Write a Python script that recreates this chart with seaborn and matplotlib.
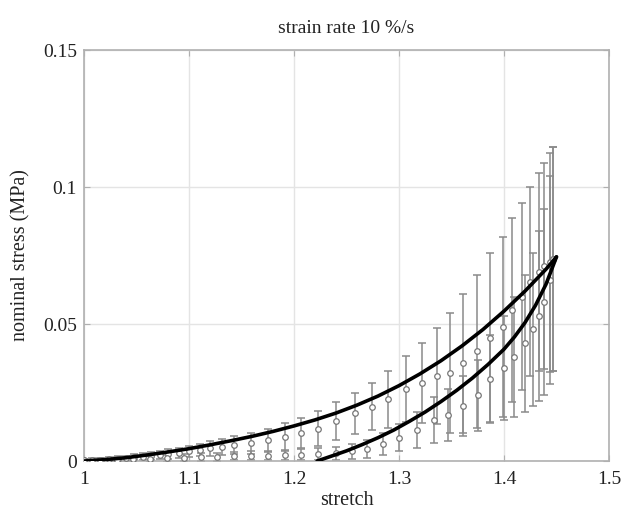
import matplotlib
matplotlib.use("Agg")
import matplotlib.pyplot as plt
import numpy as np
import pandas as pd
import seaborn as sns

# ---- model curves (loading / unloading fit) ----
fit_load_stretch = [1.00, 1.02, 1.04, 1.06, 1.08, 1.10, 1.12, 1.14, 1.16, 1.18,
                    1.20, 1.22, 1.24, 1.26, 1.28, 1.30, 1.32, 1.34, 1.36, 1.38,
                    1.40, 1.42, 1.44, 1.45]
fit_load_stress = [0.0000, 0.0005, 0.0012, 0.0022, 0.0033, 0.0045, 0.0059, 0.0074, 0.0090, 0.0108,
                   0.0128, 0.0150, 0.0175, 0.0204, 0.0237, 0.0275, 0.0318, 0.0366, 0.0420, 0.0480,
                   0.0547, 0.0620, 0.0700, 0.0745]

fit_unload_stretch = [1.450, 1.440, 1.430, 1.420, 1.410, 1.400, 1.385, 1.370, 1.355,
                      1.340, 1.325, 1.310, 1.295, 1.280, 1.265, 1.250, 1.235, 1.222]
fit_unload_stress = [0.0745, 0.0645, 0.0568, 0.0505, 0.0453, 0.0408, 0.0353, 0.0303, 0.0258,
                     0.0217, 0.0179, 0.0145, 0.0113, 0.0085, 0.0060, 0.0037, 0.0017, 0.0000]

# ---- experimental means and standard deviations ----
load_stretch = [1.000, 1.008, 1.016, 1.024, 1.032, 1.040, 1.048, 1.056, 1.064, 1.072,
                1.080, 1.090, 1.100, 1.110, 1.120, 1.131, 1.143, 1.159, 1.175, 1.191,
                1.207, 1.223, 1.240, 1.258, 1.274, 1.290, 1.307, 1.322, 1.336, 1.349,
                1.361, 1.374, 1.387, 1.399, 1.408, 1.417, 1.425, 1.433, 1.438, 1.444,
                1.447]
load_mean = [0.0003, 0.0004, 0.0005, 0.0006, 0.0008, 0.0010, 0.0013, 0.0016, 0.0019, 0.0022,
             0.0026, 0.0030, 0.0035, 0.0040, 0.0046, 0.0052, 0.0057, 0.0065, 0.0075, 0.0088,
             0.0102, 0.0118, 0.0145, 0.0175, 0.0198, 0.0225, 0.0262, 0.0285, 0.0310, 0.0320,
             0.0356, 0.0400, 0.0450, 0.0490, 0.0550, 0.0600, 0.0655, 0.0690, 0.0710, 0.0725,
             0.0737]
load_sd = [0.0005, 0.0006, 0.0007, 0.0008, 0.0009, 0.0010, 0.0011, 0.0012, 0.0014, 0.0015,
           0.0017, 0.0019, 0.0021, 0.0023, 0.0026, 0.0029, 0.0033, 0.0038, 0.0043, 0.0050,
           0.0056, 0.0063, 0.0070, 0.0075, 0.0085, 0.0105, 0.0120, 0.0147, 0.0174, 0.0219,
           0.0254, 0.0280, 0.0308, 0.0329, 0.0336, 0.0340, 0.0346, 0.0360, 0.0376, 0.0400,
           0.0410]

unload_stretch = [1.447, 1.444, 1.438, 1.433, 1.428, 1.420, 1.410, 1.400, 1.387, 1.375,
                  1.361, 1.347, 1.333, 1.317, 1.300, 1.285, 1.270, 1.255, 1.240, 1.223,
                  1.207, 1.191, 1.175, 1.159, 1.143, 1.127, 1.111, 1.095, 1.079, 1.063,
                  1.047, 1.031, 1.015, 1.000]
unload_mean = [0.0737, 0.0660, 0.0580, 0.0530, 0.0480, 0.0430, 0.0380, 0.0340, 0.0300, 0.0240,
               0.0200, 0.0168, 0.0150, 0.0113, 0.0085, 0.0062, 0.0045, 0.0035, 0.0028, 0.0024,
               0.0022, 0.0021, 0.0020, 0.0019, 0.0018, 0.0016, 0.0014, 0.0012, 0.0010, 0.0008,
               0.0006, 0.0004, 0.0003, 0.0002]
unload_sd = [0.0410, 0.0380, 0.0340, 0.0310, 0.0280, 0.0250, 0.0220, 0.0190, 0.0160, 0.0130,
             0.0110, 0.0095, 0.0085, 0.0065, 0.0050, 0.0040, 0.0033, 0.0028, 0.0024, 0.0022,
             0.0020, 0.0019, 0.0018, 0.0017, 0.0016, 0.0015, 0.0014, 0.0013, 0.0012, 0.0011,
             0.0010, 0.0009, 0.0008, 0.0007]

x_ticks = [1.0, 1.1, 1.2, 1.3, 1.4, 1.5]
x_ticklabels = ["1", "1.1", "1.2", "1.3", "1.4", "1.5"]
y_ticks = [0.0, 0.05, 0.10, 0.15]
y_ticklabels = ["0", "0.05", "0.1", "0.15"]

# ---- style ----
sns.set_theme(style="whitegrid")
plt.rcParams["font.family"] = ["Liberation Serif", "DejaVu Serif"]

fig = plt.figure(figsize=(6.28, 5.14), dpi=100)
ax = fig.add_axes([0.1338, 0.1031, 0.8359, 0.7996])
ax.set_facecolor("white")

err_color = "#8a8a8a"
for xs, ms, sds in [(load_stretch, load_mean, load_sd),
                    (unload_stretch, unload_mean, unload_sd)]:
    ax.errorbar(xs, ms, yerr=sds, fmt="none", ecolor=err_color,
                elinewidth=1.1, capsize=3.2, capthick=1.1, zorder=2)

pts = pd.DataFrame({
    "stretch": load_stretch + unload_stretch,
    "stress": load_mean + unload_mean,
})
sns.scatterplot(data=pts, x="stretch", y="stress", ax=ax, marker="o", s=16,
                facecolor="white", edgecolor="#777777", linewidth=0.9, zorder=3)

fit_load = pd.DataFrame({"stretch": fit_load_stretch, "stress": fit_load_stress})
fit_unload = pd.DataFrame({"stretch": fit_unload_stretch, "stress": fit_unload_stress})
for df in (fit_load, fit_unload):
    sns.lineplot(data=df, x="stretch", y="stress", ax=ax, sort=False,
                 color="black", linewidth=2.6, zorder=4)

ax.set_xlim(1.0, 1.5)
ax.set_ylim(0.0, 0.15)
ax.set_xticks(x_ticks)
ax.set_xticklabels(x_ticklabels)
ax.set_yticks(y_ticks)
ax.set_yticklabels(y_ticklabels)

ax.grid(True, color="#e4e4e4", linewidth=1.0)
for side in ["left", "right", "top", "bottom"]:
    ax.spines[side].set_visible(True)
    ax.spines[side].set_color("#b0b0b0")
    ax.spines[side].set_linewidth(1.2)
ax.tick_params(axis="both", which="both", direction="in", length=4, width=0.8,
               color="#b0b0b0", labelsize=14, labelcolor="#222222",
               top=True, right=True, bottom=True, left=True, pad=5)
ax.tick_params(axis="x", pad=7)

ax.set_xlabel("stretch", fontsize=14.5, color="#222222", labelpad=2)
ax.set_ylabel("nominal stress (MPa)", fontsize=14.5, color="#222222", labelpad=9)
ax.set_title("strain rate 10 %/s", fontsize=14, color="#222222", pad=12)

fig.savefig("out.png", dpi=100, facecolor="white")
